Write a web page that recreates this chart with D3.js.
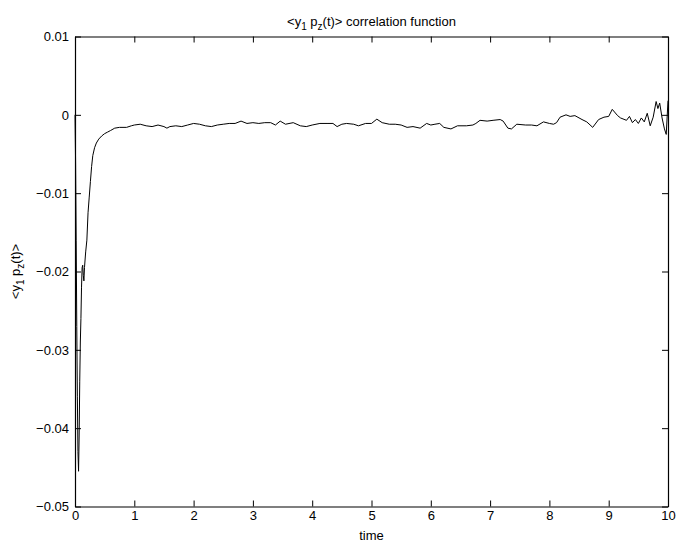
<!DOCTYPE html>
<html><head><meta charset="utf-8">
<script src="https://cdn.jsdelivr.net/npm/d3@7"></script>
<style>body{margin:0;background:#fff}svg{display:block}text{font-family:"Liberation Sans",Arial,Helvetica,sans-serif}</style>
</head><body><svg id="c" width="678" height="543"></svg>
<script>
const xTicks = [0,1,2,3,4,5,6,7,8,9,10];
const yTicks = [0.01,0,-0.01,-0.02,-0.03,-0.04,-0.05];
const yTickLabels = ["0.01","0","\u22120.01","\u22120.02","\u22120.03","\u22120.04","\u22120.05"];
const time = [0,0.01,0.02,0.03,0.04,0.05,0.06,0.07,0.08,0.09,0.10,0.11,0.12,0.13,0.14,0.15,0.16,0.18,0.20,0.22,0.24,0.26,0.28,0.30,0.33,0.36,0.40,0.45,0.50,0.55,0.60,0.67,0.75,0.87,0.95,
1.0,1.1,1.2,1.3,1.4,1.5,1.55,1.6,1.7,1.8,1.9,2.0,2.1,2.2,2.3,2.4,2.5,2.6,2.7,2.8,2.9,3.0,3.1,3.2,3.3,3.38,3.46,3.55,3.68,3.8,3.9,4.0,4.13,4.25,4.35,4.42,4.5,4.58,4.7,4.78,4.9,5.0,5.09,5.18,5.3,5.4,5.5,5.6,5.7,5.82,5.93,6.0,6.07,6.15,6.22,6.34,6.45,6.6,6.71,6.76,6.83,6.95,7.05,7.17,7.22,7.30,7.36,7.45,7.6,7.7,7.79,7.9,8.0,8.07,8.12,8.18,8.28,8.35,8.43,8.55,8.63,8.73,8.83,8.92,9.0,9.06,9.15,9.2,9.3,9.35,9.4,9.45,9.5,9.55,9.6,9.65,9.7,9.75,9.8,9.83,9.86,9.9,9.94,9.97,10.0];
const corr = [0,-0.006,-0.016,-0.027,-0.036,-0.043,-0.0455,-0.041,-0.034,-0.029,-0.026,-0.022,-0.0195,-0.0192,-0.0205,-0.0212,-0.0195,-0.0175,-0.0160,-0.0125,-0.0105,-0.0085,-0.0066,-0.0052,-0.0042,-0.0036,-0.0031,-0.0027,-0.0024,-0.0022,-0.0020,-0.0017,-0.0016,-0.0016,-0.0014,
-0.0013,-0.0012,-0.0014,-0.0015,-0.0013,-0.0015,-0.0017,-0.0015,-0.0014,-0.0015,-0.0013,-0.0011,-0.0012,-0.0014,-0.0015,-0.0013,-0.0012,-0.0011,-0.0011,-0.0008,-0.0011,-0.0010,-0.0011,-0.0010,-0.0010,-0.0013,-0.0008,-0.0012,-0.0010,-0.0014,-0.0015,-0.0013,-0.0011,-0.0011,-0.0011,-0.0015,-0.0012,-0.0011,-0.0012,-0.0014,-0.0011,-0.0011,-0.00055,-0.0010,-0.0012,-0.0012,-0.0013,-0.0016,-0.0015,-0.0017,-0.0011,-0.0013,-0.0012,-0.0011,-0.0016,-0.0018,-0.0014,-0.0014,-0.0013,-0.0011,-0.0007,-0.0008,-0.0007,-0.0006,-0.0008,-0.0017,-0.0018,-0.0012,-0.0013,-0.0013,-0.0014,-0.0009,-0.0011,-0.0012,-0.0010,-0.0003,0.0000,-0.0002,-0.0001,-0.0006,-0.0009,-0.0016,-0.0006,-0.0003,-0.0002,0.0007,-0.0001,-0.0004,-0.0007,-0.0002,-0.0010,-0.0006,-0.0011,-0.0004,-0.0009,0.0002,-0.0014,-0.0003,0.0017,0.0008,0.0015,-0.0004,-0.0018,-0.0025,0.0018];

const svg = d3.select("#c");
const L = 75, R = 668, T = 36.5, B = 506.5;
const x = d3.scaleLinear().domain([0,10]).range([L,R]);
const y = d3.scaleLinear().domain([-0.05,0.01]).range([B,T]);
const tk = 6;

svg.append("path")
  .datum(time.map((t,i)=>[t,corr[i]]))
  .attr("fill","none").attr("stroke","#000").attr("stroke-width",1)
  .attr("d", d3.line().x(d=>x(d[0])).y(d=>y(d[1])));

const fmtY = (d)=> yTickLabels[yTicks.indexOf(d)];
const gBottom = svg.append("g").attr("transform",`translate(0,${B})`)
  .call(d3.axisBottom(x).tickValues(xTicks).tickSizeInner(-tk).tickSizeOuter(0).tickPadding(4).tickFormat(d3.format("d")));
const gTop = svg.append("g").attr("transform",`translate(0,${T})`)
  .call(d3.axisTop(x).tickValues(xTicks).tickSizeInner(-tk).tickSizeOuter(0).tickFormat(""));
const gLeft = svg.append("g").attr("transform",`translate(${L},0)`)
  .call(d3.axisLeft(y).tickValues(yTicks).tickSizeInner(-tk).tickSizeOuter(0).tickPadding(6).tickFormat(fmtY));
const gRight = svg.append("g").attr("transform",`translate(${R},0)`)
  .call(d3.axisRight(y).tickValues(yTicks).tickSizeInner(-tk).tickSizeOuter(0).tickFormat(""));
[gBottom,gTop,gLeft,gRight].forEach(g=>{
  g.select(".domain").attr("stroke","#000").attr("stroke-width",1.2);
  g.selectAll(".tick line").attr("stroke","#000").attr("stroke-width",1);
  g.selectAll(".tick text").attr("fill","#000").attr("font-size",13).attr("font-family","Liberation Sans, Arial, sans-serif");
});

const title = svg.append("text").attr("x",(L+R)/2).attr("y",26).attr("text-anchor","middle").attr("font-size",13).attr("fill","#000");
title.append("tspan").text("<y");
title.append("tspan").attr("font-size",10).attr("dy",4).text("1");
title.append("tspan").attr("dy",-4).text(" p");
title.append("tspan").attr("font-size",10).attr("dy",4).text("z");
title.append("tspan").attr("dy",-4).text("(t)> correlation function");

svg.append("text").attr("x",(L+R)/2).attr("y",540).attr("text-anchor","middle").attr("font-size",13).attr("fill","#000").text("time");

const yl = svg.append("text").attr("transform",`translate(20,${(T+B)/2}) rotate(-90)`).attr("text-anchor","middle").attr("font-size",13).attr("fill","#000");
yl.append("tspan").text("<y");
yl.append("tspan").attr("font-size",10).attr("dy",4).text("1");
yl.append("tspan").attr("dy",-4).text(" p");
yl.append("tspan").attr("font-size",10).attr("dy",4).text("z");
yl.append("tspan").attr("dy",-4).text("(t)>");
</script></body></html>
